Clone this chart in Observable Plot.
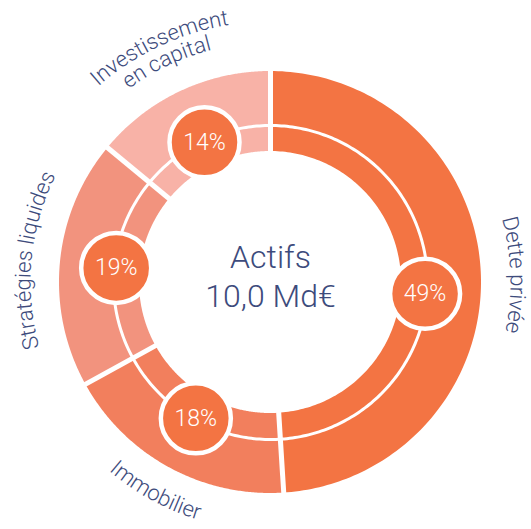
<!DOCTYPE html>
<html><head><meta charset="utf-8">
<script src="https://cdn.jsdelivr.net/npm/d3@7"></script>
<script src="https://cdn.jsdelivr.net/npm/@observablehq/plot@0.6"></script>
<style>
html,body{margin:0;padding:0;background:#fff;}
#chart svg{display:block;}
</style></head><body><div id="chart"></div>
<script>
// ---------- data ----------
const categories = ["Dette privée", "Immobilier", "Stratégies liquides", "Investissement en capital"];
const shares = [49, 18, 19, 14];
const outerLabels = [["Dette privée"], ["Immobilier"], ["Stratégies liquides"], ["Investissement", "en capital"]];
const shareLabels = ["49%", "18%", "19%", "14%"];
const centerLines = ["Actifs", "10,0 Md€"];

// ---------- styles ----------
const palette = ["#F37443", "#F27F5D", "#F2937E", "#F8B2A7"];
const badgeColor = "#F37443";
const textColor = "#3D4B7C";
const fontFamily = "Roboto, 'Liberation Sans', Arial, sans-serif";
const fontWeight = 300;

// ---------- layout ----------
const W = 531, H = 529, CX = 270, CY = 282;
const R_IN = 131, R_MID = 157, R_OUT = 211;
const R_BADGE = 155;
const LABEL_R_CW = 240, LABEL_R_CCW = 248, LABEL_GAP = 21;
const badgeNudge = {"Dette privée": 6};

const total = d3.sum(shares);
let acc = 0;
const segs = categories.map((c, i) => {
  const a0 = acc / total * 360; acc += shares[i];
  const a1 = acc / total * 360;
  return {cat: c, a0, a1, mid: (a0 + a1) / 2, i};
});
const rad = (deg) => deg * Math.PI / 180;
const px = (r, a) => r * Math.sin(rad(a));
const py = (r, a) => r * Math.cos(rad(a));

// ring polygons
const ringRows = [];
for (const s of segs) {
  const n = 160;
  for (let k = 0; k <= n; k++) {
    const a = s.a0 + (s.a1 - s.a0) * k / n;
    ringRows.push({cat: s.cat, x1: px(R_OUT, a), y1: py(R_OUT, a), x2: px(R_IN, a), y2: py(R_IN, a)});
  }
}
// divider circle
const divider = d3.range(0, 361, 1).map(a => ({x: px(R_MID, a), y: py(R_MID, a)}));
// radial separators
const seps = segs.map(s => ({x1: px(R_IN - 2, s.a0), y1: py(R_IN - 2, s.a0), x2: px(R_OUT + 2, s.a0), y2: py(R_OUT + 2, s.a0)}));
// badges
const badges = segs.map(s => {
  const a = s.mid + (badgeNudge[s.cat] || 0);
  return {x: px(R_BADGE, a), y: py(R_BADGE, a), text: shareLabels[s.i]};
});

// curved labels, char by char
const LABEL_SIZE = 22;
const ctx = document.createElement("canvas").getContext("2d");
ctx.font = `${fontWeight} ${LABEL_SIZE}px ${fontFamily}`;
const chars = [];
for (const s of segs) {
  const lines = outerLabels[s.i];
  const ccw = s.mid > 100 && s.mid < 260;
  lines.forEach((line, li) => {
    let r;
    if (ccw) r = LABEL_R_CCW + li * LABEL_GAP;
    else r = LABEL_R_CW + (lines.length - 1 - li) * LABEL_GAP;
    const ws = [...line].map(ch => ctx.measureText(ch).width);
    const tot = d3.sum(ws);
    let pos = -tot / 2;
    [...line].forEach((ch, k) => {
      const c = pos + ws[k] / 2; pos += ws[k];
      const off = c / r * 180 / Math.PI;
      const a = ccw ? s.mid - off : s.mid + off;
      chars.push({x: px(r, a), y: py(r, a), ch, rot: ccw ? a - 180 : a});
    });
  });
}

// center text
const CENTER_SIZE = 32, CENTER_GAP = 39, CENTER_MID = -4.5;
const centerRows = centerLines.map((t, i) => ({t, x: 0, y: CENTER_MID + (0.5 - i) * CENTER_GAP}));

const chart = Plot.plot({
  width: W, height: H, margin: 0,
  x: {domain: [-CX, W - CX], axis: null},
  y: {domain: [-(H - CY), CY], axis: null},
  color: {domain: categories, range: palette},
  style: {background: "white", fontFamily},
  marks: [
    Plot.area(ringRows, {x1: "x1", y1: "y1", x2: "x2", y2: "y2", fill: "cat", z: "cat", curve: "linear"}),
    Plot.line(divider, {x: "x", y: "y", stroke: "white", strokeWidth: 3}),
    Plot.link(seps, {x1: "x1", y1: "y1", x2: "x2", y2: "y2", stroke: "white", strokeWidth: 5}),
    Plot.dot(badges, {x: "x", y: "y", r: 35, fill: badgeColor, stroke: "white", strokeWidth: 4.5}),
    Plot.text(badges, {x: "x", y: "y", text: "text", fill: "white", fontSize: 23, fontWeight, lineAnchor: "middle"}),
    Plot.text(chars, {x: "x", y: "y", text: "ch", rotate: "rot", fill: textColor, fontSize: LABEL_SIZE, fontWeight, textAnchor: "middle", lineAnchor: "bottom"}),
    Plot.text(centerRows, {x: "x", y: "y", text: "t", fill: textColor, fontSize: CENTER_SIZE, fontWeight, lineAnchor: "bottom"})
  ]
});
document.getElementById("chart").appendChild(chart);
</script></body></html>
